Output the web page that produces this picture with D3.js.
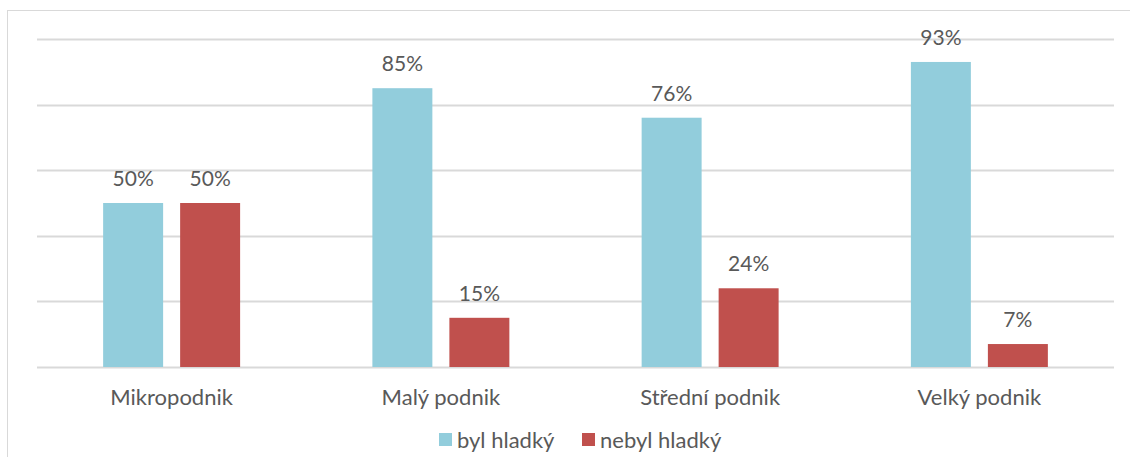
<!DOCTYPE html>
<html lang="cs">
<head>
    <meta charset="UTF-8">
    <title>Podniky</title>
    <script src="https://d3js.org/d3.v7.min.js"></script>
    <style>
        body { margin: 0; background: #fff; }
        text { font-family: Lato, "Open Sans", sans-serif; fill: #595959; }
    </style>
</head>
<body>
<div id="chart"></div>
<script>
    // data
    var categories = ["Mikropodnik", "Malý podnik", "Střední podnik", "Velký podnik"];
    var seriesNames = ["byl hladký", "nebyl hladký"];
    var bylHladky = [50, 85, 76, 93];
    var nebylHladky = [50, 15, 24, 7];
    var yTicks = [0, 20, 40, 60, 80, 100];
    var colors = ["#92CDDC", "#C0504D"];

    var width = 1130, height = 457;
    var margin = {top: 39, right: 16, bottom: 90, left: 37};

    var svg = d3.select("#chart").append("svg")
        .attr("width", width)
        .attr("height", height);

    // chart area border
    svg.append("rect")
        .attr("x", 7.5).attr("y", 10.5)
        .attr("width", width + 10).attr("height", height + 10)
        .attr("fill", "none")
        .attr("stroke", "#d9d9d9");

    var x0 = d3.scaleBand()
        .domain(categories)
        .range([margin.left, width - margin.right])
        .padding(0);

    var x1 = d3.scaleBand()
        .domain(seriesNames)
        .range([0, x0.bandwidth()])
        .paddingInner(0.221)
        .paddingOuter(0.859);

    var y = d3.scaleLinear()
        .domain([0, 100])
        .range([height - margin.bottom, margin.top]);

    // gridlines
    svg.append("g")
        .selectAll("line")
        .data(yTicks)
        .join("line")
        .attr("x1", margin.left)
        .attr("x2", width - margin.right)
        .attr("y1", function (d) { return Math.round(y(d)) + 0.5; })
        .attr("y2", function (d) { return Math.round(y(d)) + 0.5; })
        .attr("stroke", "#d9d9d9")
        .attr("stroke-width", 2);

    var rows = categories.map(function (c, i) {
        return {cat: c, vals: [bylHladky[i], nebylHladky[i]]};
    });

    var groups = svg.append("g")
        .selectAll("g")
        .data(rows)
        .join("g")
        .attr("transform", function (d) { return "translate(" + x0(d.cat) + ",0)"; });

    var bars = groups.selectAll("g.bar")
        .data(function (d) {
            return d.vals.map(function (v, j) { return {name: seriesNames[j], v: v, j: j}; });
        })
        .join("g").attr("class", "bar");

    bars.append("rect")
        .attr("x", function (d) { return x1(d.name); })
        .attr("y", function (d) { return y(d.v); })
        .attr("width", x1.bandwidth())
        .attr("height", function (d) { return y(0) - y(d.v); })
        .attr("fill", function (d) { return colors[d.j]; });

    bars.append("text")
        .attr("x", function (d) { return x1(d.name) + x1.bandwidth() / 2; })
        .attr("y", function (d) { return y(d.v) - 17; })
        .attr("text-anchor", "middle")
        .style("font-size", "21px")
        .text(function (d) { return d.v + "%"; });

    // category axis labels
    svg.append("g")
        .selectAll("text")
        .data(categories)
        .join("text")
        .attr("x", function (d) { return x0(d) + x0.bandwidth() / 2; })
        .attr("y", 405)
        .attr("text-anchor", "middle")
        .style("font-size", "22px")
        .text(function (d) { return d; });

    // legend
    var legendX = [439, 582];
    var legend = svg.append("g")
        .selectAll("g")
        .data(seriesNames)
        .join("g")
        .attr("transform", function (d, i) { return "translate(" + legendX[i] + ",433)"; });

    legend.append("rect")
        .attr("width", 13).attr("height", 13)
        .attr("fill", function (d, i) { return colors[i]; });

    legend.append("text")
        .attr("x", 18)
        .attr("y", 15)
        .style("font-size", "22px")
        .text(function (d) { return d; });
</script>
</body>
</html>
